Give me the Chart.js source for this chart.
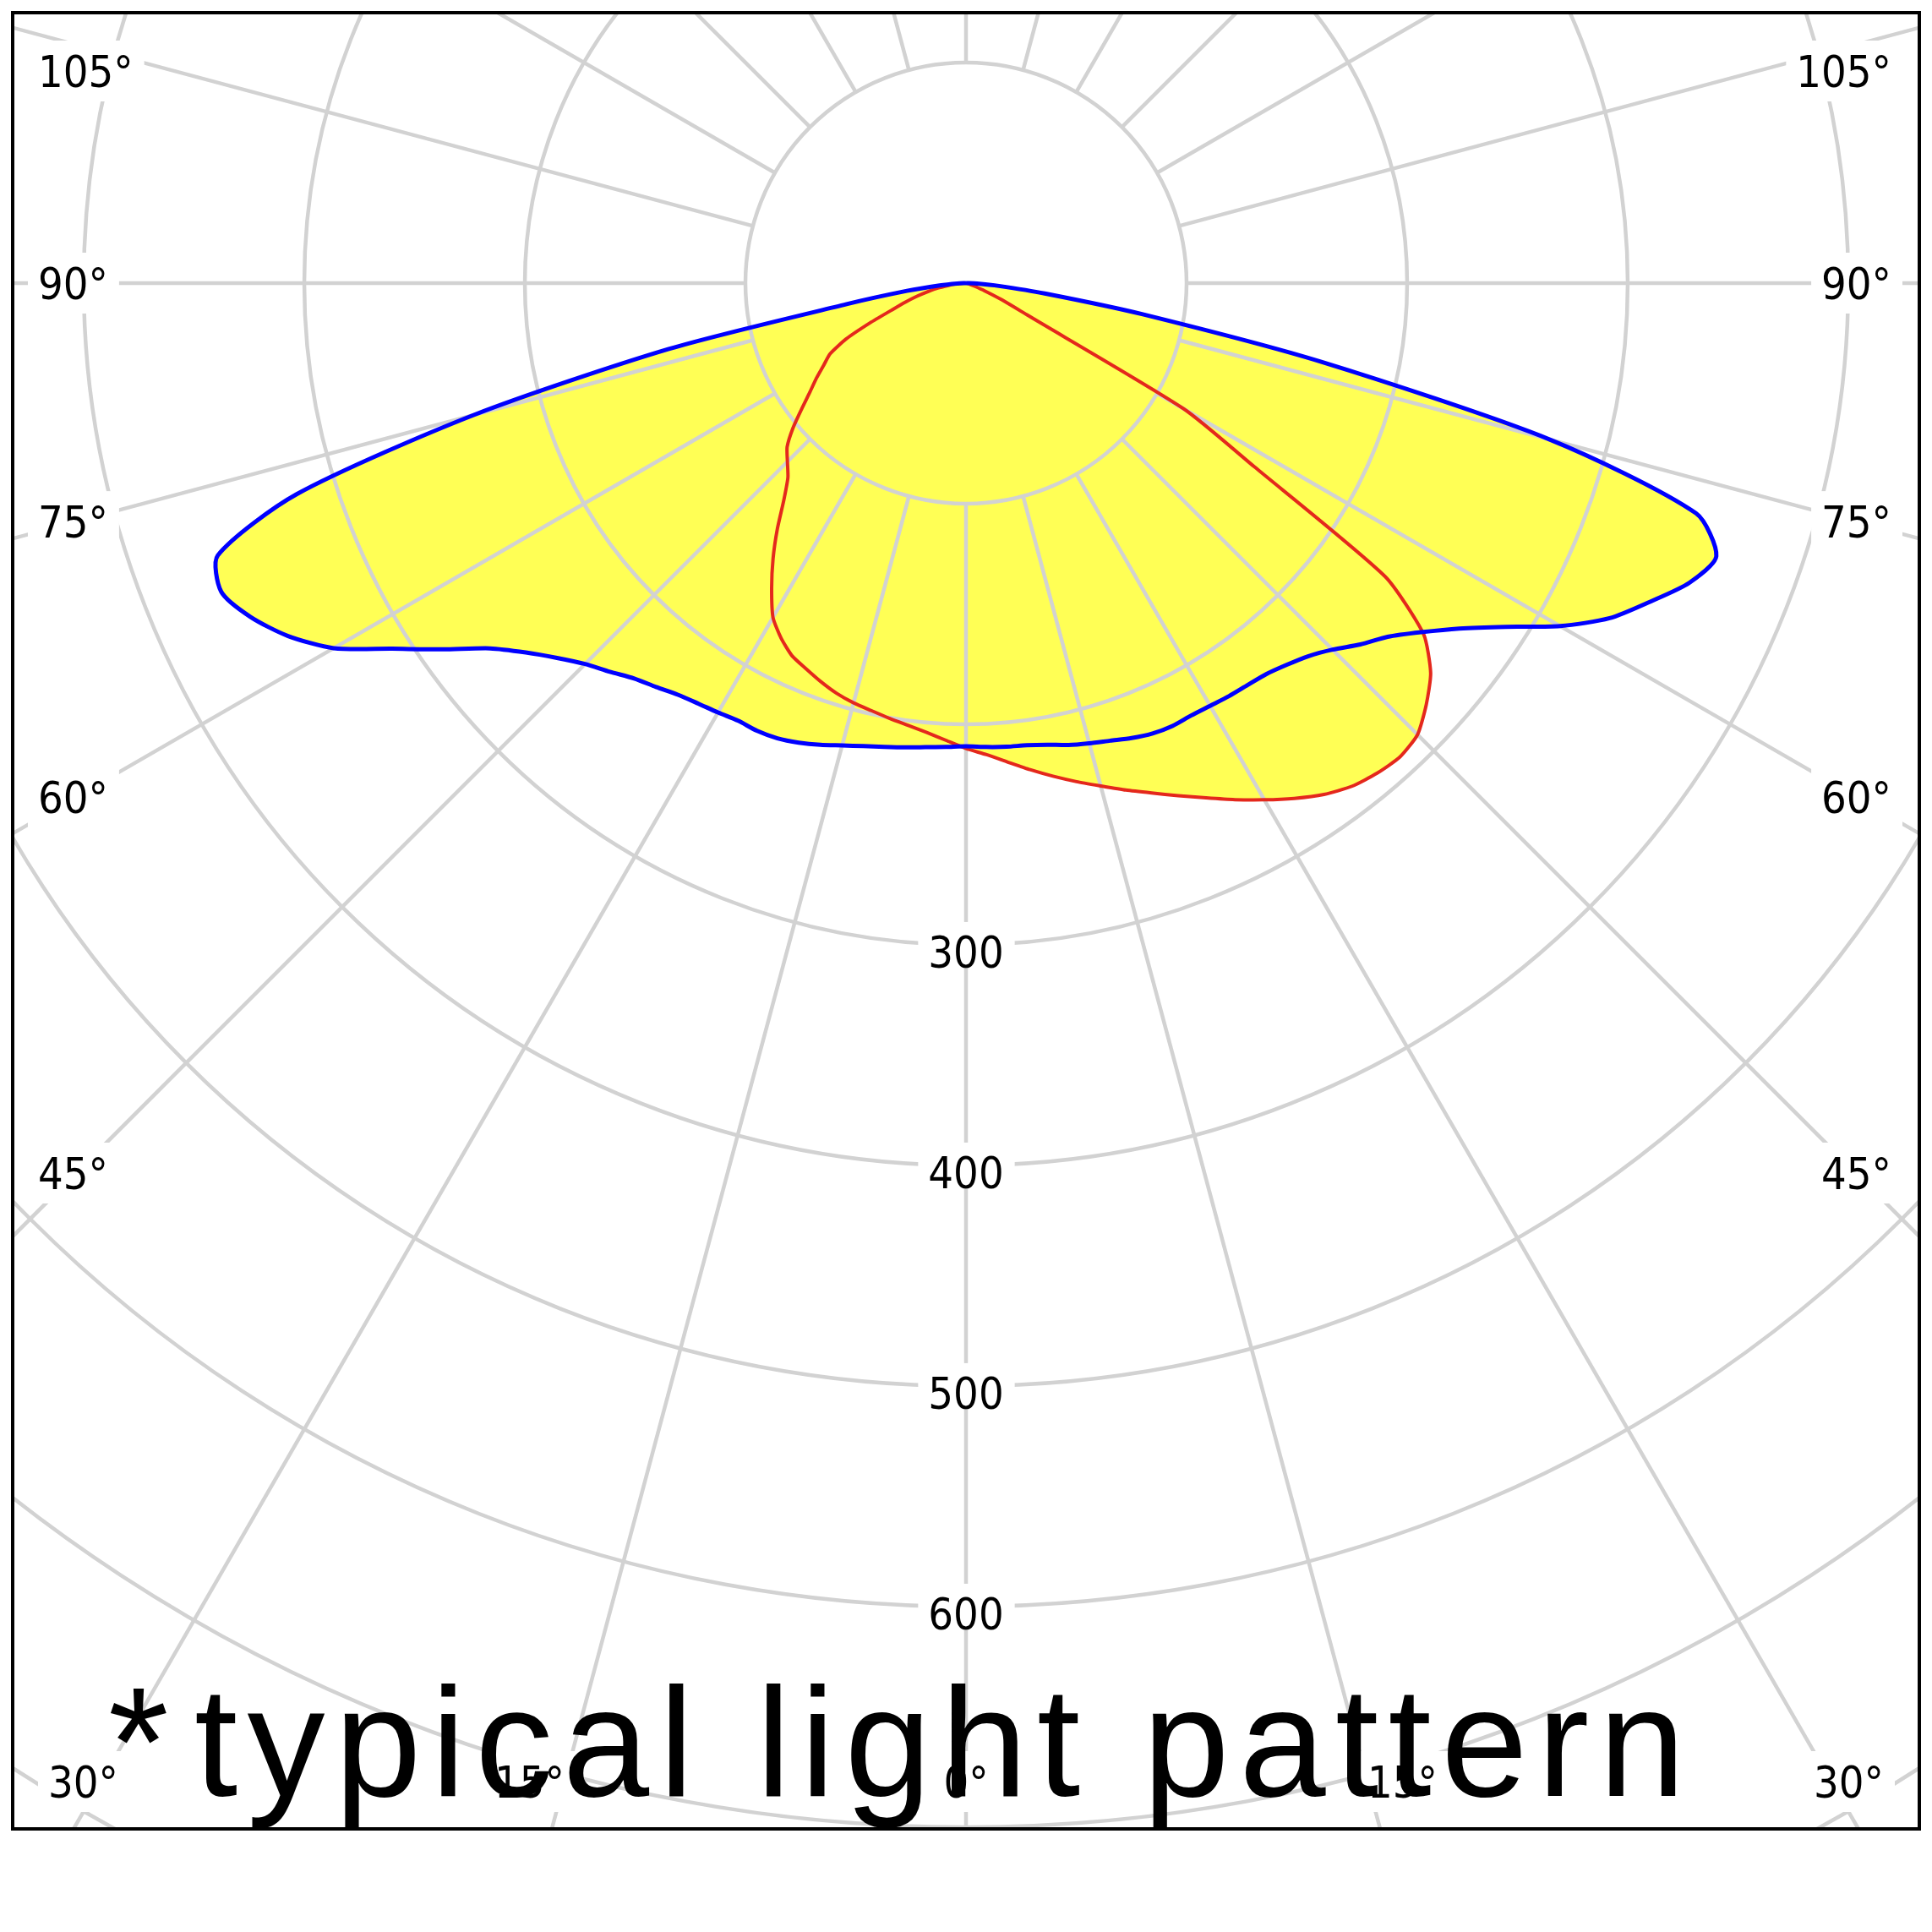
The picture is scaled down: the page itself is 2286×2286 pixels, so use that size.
<!DOCTYPE html>
<html>
<head>
<meta charset="utf-8">
<title>typical light pattern</title>
<script src="https://cdn.jsdelivr.net/npm/chart.js@4.4.1/dist/chart.umd.min.js"></script>
<style>
  html, body { margin: 0; padding: 0; background: #ffffff; }
  #wrap { width: 2286px; height: 2286px; }
  canvas { display: block; }
</style>
</head>
<body>
<div id="wrap"><canvas id="c" width="2286" height="2286" style="width:2286px;height:2286px"></canvas></div>
<script>
// ---- data (gamma angle from nadir, degrees) ----
const angles = [0, 2.5, 5, 7.5, 10, 12.5, 15, 17.5, 20, 22.5, 25, 27.5, 30, 32.5, 35, 37.5, 40, 42.5, 45,
  47.5, 50, 52.5, 55, 57.5, 60, 62.5, 65, 67.5, 70, 72.5, 75, 77.5, 80, 82.5, 85, 87.5, 90];

// blue plane, right half (C0) and left half (C180)
const blueRight = [210, 210.5, 211, 211.3, 212.5, 214.5, 216, 217.5, 219.5, 221, 221.5, 221, 221.3, 222, 222.5, 223.5, 226, 229.5, 235,
  242.5, 249.5, 260, 273, 290, 311, 329, 342, 355, 362, 347, 274, 165, 81, 36, 15, 5, 0];
const blueLeft = [210, 210.5, 211.2, 212.3, 213.5, 215, 217, 219.5, 221.7, 223.4, 224, 223.7, 224.8, 226, 227.8, 230.8, 234, 239, 244.2,
  251.5, 260.5, 272, 289.5, 308.5, 331, 346.5, 358, 365.5, 361, 318, 231, 138, 55, 27, 12, 4, 0];

// red plane, right half (C90) and left half (C270)
const redRight = [211.5, 214, 218, 222.5, 227, 231.5, 236, 241, 246, 251.5, 257.5, 264, 270.5, 277, 283, 287.5, 290, 291.3, 289.5,
  283, 275, 261.5, 232, 155, 114, 31, 18, 9, 4, 2, 1, 0, 0, 0, 0, 0, 0];
const redLeft = [211, 207.5, 204.5, 202.2, 200.3, 198.5, 197, 195, 192.3, 189.3, 186.5, 181.5, 175, 164, 152.5, 140.5, 128.5, 119.5, 114.5,
  110, 102.5, 94, 86.5, 80.5, 74.5, 69.5, 60, 47, 36, 29, 23, 17.5, 13, 8, 5, 2, 0];

// grid / tick definitions
const ringValues = [100, 200, 300, 400, 500, 600, 700, 800, 900, 1000];
const ringLabels = [300, 400, 500, 600];
const spokeAngles = [0, 15, 30, 45, 60, 75, 90, 105, 120, 135, 150, 165, 180, 195, 210, 225, 240, 255, 270, 285, 300, 315, 330, 345];
const angleLabels = [0, 15, 30, 45, 60, 75, 90, 105];
const spokeStart = 100, spokeEnd = 1200;
const footerMark = '*';
const footerText = 'typical light pattern';

// axis range (cd/klm), centre of diagram at (0,0)
const xMin = -432.2, xMax = 432.2, yMin = -700.8, yMax = 122.6;

function polarToXY(leftArr, rightArr) {
  const pts = [];
  for (let i = angles.length - 1; i >= 0; i--) {
    const g = angles[i] * Math.PI / 180;
    pts.push({ x: -leftArr[i] * Math.sin(g), y: -leftArr[i] * Math.cos(g) });
  }
  for (let i = 1; i < angles.length; i++) {
    const g = angles[i] * Math.PI / 180;
    pts.push({ x: rightArr[i] * Math.sin(g), y: -rightArr[i] * Math.cos(g) });
  }
  return pts;
}

const GRID = 'rgb(210,210,210)';
const LABEL_FONT = '52px "DejaVu Sans Condensed", "DejaVu Sans", sans-serif';

function drawBoxedText(ctx, text, x, baseline, align, top, bottom) {
  ctx.font = LABEL_FONT;
  const w = ctx.measureText(text).width;
  let left;
  if (align === 'left') left = x; else if (align === 'right') left = x - w; else left = x - w / 2;
  ctx.fillStyle = '#ffffff';
  ctx.fillRect(left - 12, top, w + 25, bottom - top);
  ctx.fillStyle = '#000000';
  ctx.textAlign = 'left';
  ctx.textBaseline = 'alphabetic';
  ctx.fillText(text, left, baseline);
}

const polarPlugin = {
  id: 'polarPlugin',
  beforeDatasetsDraw(chart) {
    const { ctx, chartArea: ca, scales: { x } } = chart;
    const cx = x.getPixelForValue(0), cy = chart.scales.y.getPixelForValue(0);
    ctx.save();
    ctx.beginPath();
    ctx.rect(ca.left, ca.top, ca.right - ca.left, ca.bottom - ca.top);
    ctx.clip();
    ctx.strokeStyle = GRID;
    ctx.lineWidth = 4.5;
    ringValues.forEach(v => {
      const r = x.getPixelForValue(v) - cx;
      ctx.beginPath();
      ctx.arc(cx, cy, r, 0, Math.PI * 2);
      ctx.stroke();
    });
    const r0 = x.getPixelForValue(spokeStart) - cx, r1 = x.getPixelForValue(spokeEnd) - cx;
    spokeAngles.forEach(a => {
      const g = a * Math.PI / 180;
      ctx.beginPath();
      ctx.moveTo(cx + r0 * Math.sin(g), cy + r0 * Math.cos(g));
      ctx.lineTo(cx + r1 * Math.sin(g), cy + r1 * Math.cos(g));
      ctx.stroke();
    });
    ctx.restore();
  },
  afterDatasetsDraw(chart) {
    const { ctx, chartArea: ca, scales: { x, y } } = chart;
    const cx = x.getPixelForValue(0), cy = y.getPixelForValue(0);
    ctx.save();
    ctx.font = LABEL_FONT;
    ringLabels.forEach(v => {
      const py = y.getPixelForValue(-v);
      drawBoxedText(ctx, String(v), cx, py + 27, 'center', py - 27, py + 28);
    });
    const bottomY = ca.bottom - 56;
    angleLabels.forEach(a => {
      const g = a * Math.PI / 180;
      const sides = a === 0 ? [1] : [-1, 1];
      sides.forEach(s => {
        const txt = a + '\u00B0';
        const sn = Math.sin(g), cs = Math.cos(g);
        const tSide = sn > 1e-9 ? (s < 0 ? (cx - ca.left) : (ca.right - cx)) / sn : Infinity;
        const tBot = cs > 1e-9 ? (ca.bottom - cy) / cs : Infinity;
        ctx.font = LABEL_FONT;
        const w = ctx.measureText(txt).width;
        if (tSide < tBot) {
          const ax = s < 0 ? ca.left + 75 : ca.right - 75;
          let yc = cy + (cs / sn) * Math.abs(cx - ax);
          yc = Math.max(yc, ca.top + 69);
          if (s < 0) drawBoxedText(ctx, txt, ca.left + 30, yc + 19, 'left', yc - 36, yc + 36);
          else drawBoxedText(ctx, txt, ca.right - 33, yc + 19, 'right', yc - 36, yc + 36);
        } else {
          const xs = cx + s * Math.tan(g) * (bottomY - cy);
          if (a === 0) {
            drawBoxedText(ctx, txt, xs, bottomY + 19, 'center', bottomY - 36, bottomY + 36);
          } else if (s < 0) {
            const xr = Math.max(xs, ca.left + 42 + w);
            drawBoxedText(ctx, txt, xr, bottomY + 19, 'right', bottomY - 36, bottomY + 36);
          } else {
            const xl = Math.min(xs, ca.right - 42 - w);
            drawBoxedText(ctx, txt, xl, bottomY + 19, 'left', bottomY - 36, bottomY + 36);
          }
        }
      });
    });
    ctx.restore();
  },
  afterDraw(chart) {
    const { ctx, chartArea: ca } = chart;
    ctx.save();
    ctx.strokeStyle = '#000000';
    ctx.lineWidth = 4;
    ctx.strokeRect(ca.left, ca.top, ca.right - ca.left, ca.bottom - ca.top);
    ctx.fillStyle = '#000000';
    ctx.font = '184px "Liberation Sans", Arial, sans-serif';
    ctx.textAlign = 'left';
    ctx.textBaseline = 'alphabetic';
    ctx.letterSpacing = '0px';
    ctx.fillText(footerMark, ca.left + 113, ca.bottom - 39);
    ctx.letterSpacing = '11.5px';
    ctx.fillText(footerText, ca.left + 215, ca.bottom - 39);
    ctx.restore();
  }
};

new Chart(document.getElementById('c'), {
  type: 'scatter',
  data: {
    datasets: [
      {
        label: 'C0-C180',
        data: polarToXY(blueLeft, blueRight),
        showLine: true,
        borderColor: '#0000ff',
        borderWidth: 5,
        backgroundColor: '#ffff55',
        fill: 'shape',
        pointRadius: 0,
        tension: 0.25,
        borderJoinStyle: 'round'
      },
      {
        label: 'C90-C270',
        data: polarToXY(redLeft, redRight),
        showLine: true,
        borderColor: 'rgb(228,40,28)',
        borderWidth: 4,
        backgroundColor: '#ffff55',
        fill: 'shape',
        pointRadius: 0,
        tension: 0.2,
        borderJoinStyle: 'round'
      }
    ]
  },
  options: {
    responsive: false,
    animation: false,
    events: [],
    devicePixelRatio: 1,
    layout: { padding: { left: 15, top: 15, right: 15, bottom: 122 } },
    scales: {
      x: { type: 'linear', min: xMin, max: xMax, display: false },
      y: { type: 'linear', min: yMin, max: yMax, display: false }
    },
    plugins: {
      legend: { display: false },
      tooltip: { enabled: false },
      filler: { drawTime: 'beforeDraw' }
    }
  },
  plugins: [polarPlugin]
});
</script>
</body>
</html>
